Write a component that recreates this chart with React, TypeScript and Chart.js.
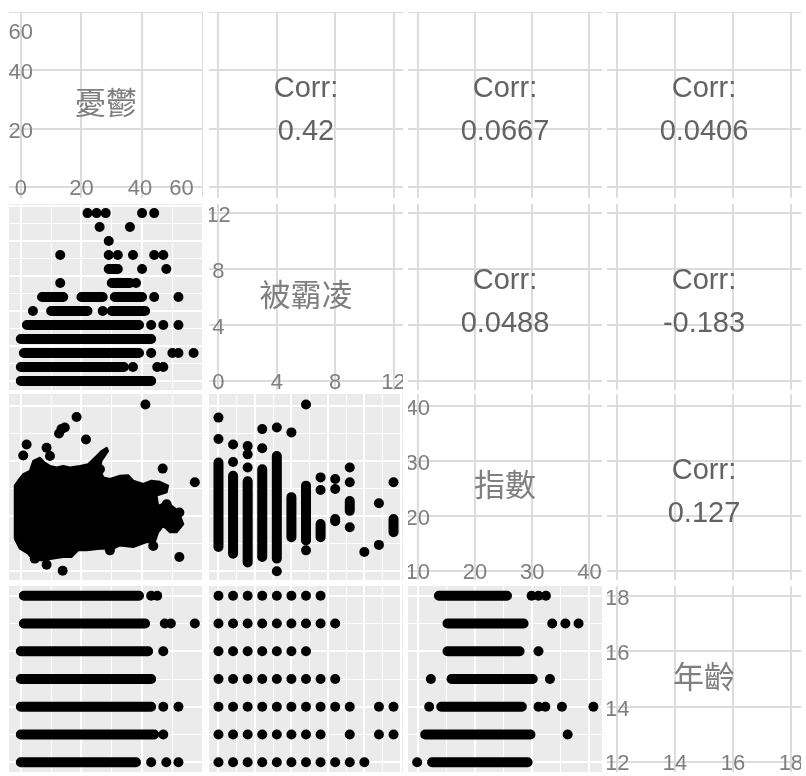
import React, { useEffect, useRef } from 'react';
import { Chart, registerables } from 'chart.js';

Chart.register(...registerables);

// ---- variables & axes ----
const varNames = ['憂鬱', '被霸凌', '指數', '年齡'];
const varMin = [-3.9, -0.65, 8.3, 11.65];
const varMax = [60.1, 12.65, 42.2, 18.35];

const labelBreaks = [[0, 20, 40, 60], [0, 4, 8, 12], [10, 20, 30, 40], [12, 14, 16, 18]];
const majorBreaks = [[0, 20, 40, 60], [0, 2.5, 5, 7.5, 10, 12.5], [10, 20, 30, 40], [12, 14, 16, 18]];
const minorBreaks = [[10, 30, 50], [1.25, 3.75, 6.25, 8.75, 11.25], [15, 25, 35], [13, 15, 17]];

const diagXLabels = [['0', '20', '40', '60'], ['0', '4', '8', '12'], ['10', '20', '30', '40'], ['12', '14', '16', '18']];
const diagXLabelPos = [[0, 20, 39.3, 53], [0, 4, 8, 12], [10, 20, 30, 40], [12, 14, 16, 18]];
const diagYLabels = [['20', '40', '60'], ['4', '8', '12'], ['20', '30', '40'], ['14', '16', '18']];
const diagYLabelPos = [[20, 40, 54], [4, 8, 12], [20, 30, 40], [14, 16, 18]];

// ---- correlations (upper triangle) ----
const corrRows = [0, 0, 0, 1, 1, 2];
const corrCols = [1, 2, 3, 2, 3, 3];
const corrValues = ['0.42', '0.0667', '0.0406', '0.0488', '-0.183', '0.127'];

// ---- 被霸凌 (y) vs 憂鬱 (x): runs [y, xFrom, xTo] and single points [x, y] ----
const depBullyRuns = [
  [8, 29, 32], [7, 30, 36], [6, 7, 14], [6, 20, 27], [6, 31, 40],
  [5, 10, 22], [5, 30, 41], [4, 2, 39], [3, 0, 43], [2, 1, 39], [1, 0, 34], [0, 0, 43],
];
const depBullyPoints = [
  [22, 12], [25, 12], [28, 12], [40, 12], [44, 12],
  [26, 11], [36, 11], [29, 10],
  [13, 9], [29, 9], [32, 9], [37, 9], [44, 9], [47, 9],
  [40, 8], [48, 8], [13, 7], [38, 7], [44, 6], [52, 6],
  [4, 5], [27, 5], [43, 4], [47, 4], [52, 4],
  [43, 2], [50, 2], [52, 2], [57, 2], [37, 1], [45, 1], [47, 1],
];

// ---- 指數 (y) vs 憂鬱 (x): outline of the dense cloud [x, y] and outliers ----
const depIndexOutline = [
  [-2.0, 15.8], [-2.0, 25.5], [-0.9, 26.4], [0.8, 27.6], [3.0, 28.2], [4.1, 30.0], [6.3, 30.6],
  [7.9, 29.7], [9.6, 29.1], [11.8, 28.8], [14.0, 29.1], [16.2, 28.8], [19.5, 29.1], [22.2, 29.4],
  [25.0, 30.9], [26.6, 31.8], [28.3, 32.4], [28.8, 31.8], [26.6, 30.0], [26.1, 28.5], [27.2, 27.0],
  [29.4, 26.7], [32.7, 27.3], [35.4, 27.4], [37.1, 26.4], [40.4, 25.8], [43.1, 26.4], [45.9, 26.2],
  [48.6, 25.5], [48.1, 24.3], [44.8, 23.7], [45.3, 21.8], [48.1, 22.5], [51.9, 20.9], [53.6, 18.5],
  [51.4, 17.0], [49.2, 17.0], [47.0, 18.2], [45.3, 17.0], [44.2, 15.2], [41.5, 15.2], [37.1, 14.3],
  [32.7, 14.6], [30.5, 14.0], [26.1, 14.0], [21.7, 13.7], [18.9, 13.7], [16.7, 12.5], [14.0, 12.5],
  [10.7, 12.2], [7.4, 11.9], [4.1, 11.9], [2.4, 13.1], [-0.3, 14.0], [-2.0, 15.8],
];
const depIndexPoints = [
  [41.1, 40.3], [18.4, 38.0], [13.4, 35.8], [14.5, 36.1], [12.6, 35.0], [21.5, 33.9], [1.9, 33.0],
  [0.8, 31.0], [8.5, 32.4], [9.6, 30.9], [46.8, 28.6], [57.4, 26.1], [52.3, 12.5], [13.8, 10.0],
  [8.5, 11.1], [4.6, 12.2], [43.7, 14.5], [29.4, 13.7], [48.1, 22.1], [52.3, 20.6], [26.1, 28.5],
  [26.6, 26.4],
];

// ---- 指數 (y) vs 被霸凌 (x): runs [x, yFrom, yTo] and points [x, y] ----
const bullyIndexRuns = [
  [0, 14.3, 29.7], [1, 13.1, 27.3], [2, 11.5, 26.3], [3, 12.5, 28.5], [4, 12.2, 30.9],
  [5, 16.1, 23.4], [6, 15.5, 25.5], [7, 16.1, 18.5], [9, 20.9, 22.7], [12, 17.0, 19.4],
];
const bullyIndexPoints = [
  [0, 37.9], [0, 34.0], [1, 33.0], [1, 29.8], [2, 32.7], [2, 31.2], [2, 28.8], [3, 35.8], [3, 32.3],
  [4, 36.1], [4, 9.9], [5, 35.2], [6, 40.3], [6, 13.7], [7, 27.0], [7, 24.7], [8, 26.7], [8, 24.9],
  [8, 19.4], [8, 19.0], [9, 28.8], [9, 26.1], [9, 17.9], [10, 13.4], [11, 22.3], [11, 14.7], [12, 26.1],
];

// ---- 年齡 (y) vs 憂鬱 (x) ----
const depAgeRuns = [
  [18, 1, 39], [17, 1, 41], [16, 0, 42], [15, 0, 43], [14, 0, 43], [13, 0, 44], [12, 0, 38],
];
const depAgePoints = [
  [43, 18], [45, 18], [47.5, 17], [49.5, 17], [57.4, 17], [47, 16], [47, 14], [52, 14],
  [47, 13], [43, 12], [48, 12], [52, 12],
];

// ---- 年齡 (y) vs 被霸凌 (x) ----
const bullyAgeLevels = [18, 17, 16, 15, 14, 13, 12];
const bullyAgeValues = [
  [0, 1, 2, 3, 4, 5, 6, 7],
  [0, 1, 2, 3, 4, 5, 6, 7, 8],
  [0, 1, 2, 3, 4, 5, 6],
  [0, 1, 2, 3, 4, 5, 6, 7, 8],
  [0, 1, 2, 3, 4, 5, 6, 7, 8, 9, 11, 12],
  [0, 1, 2, 3, 4, 5, 6, 7, 9, 11, 12],
  [0, 1, 2, 3, 4, 5, 6, 7, 8, 9, 10],
];

// ---- 年齡 (y) vs 指數 (x) ----
const indexAgeRuns = [
  [18, 13.7, 25.6], [17, 15.2, 28.5], [16, 15.2, 27.8], [15, 15.9, 30.1],
  [14, 14.1, 28.2], [13, 11.3, 29.7], [12, 12.5, 29.2],
];
const indexAgePoints = [
  [29.9, 18], [31.1, 18], [32.4, 18], [33.5, 17], [35.8, 17], [38.1, 17], [31.1, 16],
  [12.3, 15], [33.1, 15], [12.0, 14], [31.1, 14], [32.3, 14], [35.2, 14], [40.7, 14],
  [36.2, 13], [9.9, 12],
];

// ---- layout ----
const panelLeft = [9, 209, 408, 607];
const panelTop = [12, 204, 394, 586];
const panelW = 194;
const panelH = 186;

const DOT = 5;

function runsLine(runs: number[][], horizontal: boolean) {
  const data: any[] = [];
  runs.forEach(([c, a, b]) => {
    if (horizontal) data.push({ x: a, y: c }, { x: b, y: c });
    else data.push({ x: c, y: a }, { x: c, y: b });
    data.push({ x: null, y: null });
  });
  return {
    data,
    showLine: true,
    spanGaps: false,
    borderColor: '#000',
    borderWidth: DOT * 2,
    borderCapStyle: 'round',
    borderJoinStyle: 'round',
    pointRadius: 0,
    fill: false,
  };
}

function pointsSet(points: number[][]) {
  return {
    data: points.map(([x, y]) => ({ x, y })),
    showLine: false,
    pointRadius: DOT,
    pointHoverRadius: DOT,
    pointBackgroundColor: '#000',
    pointBorderColor: '#000',
    pointBorderWidth: 0,
  };
}

function lowerDatasets(row: number, col: number): any[] {
  if (row === 1 && col === 0) return [runsLine(depBullyRuns, true), pointsSet(depBullyPoints)];
  if (row === 2 && col === 0)
    return [
      {
        data: depIndexOutline.map(([x, y]) => ({ x, y })),
        showLine: true,
        borderColor: '#000',
        backgroundColor: '#000',
        borderWidth: 2,
        borderJoinStyle: 'round',
        fill: 'shape',
        pointRadius: 0,
      },
      pointsSet(depIndexPoints),
    ];
  if (row === 2 && col === 1) return [runsLine(bullyIndexRuns, false), pointsSet(bullyIndexPoints)];
  if (row === 3 && col === 0) return [runsLine(depAgeRuns, true), pointsSet(depAgePoints)];
  if (row === 3 && col === 1) {
    const pts: number[][] = [];
    bullyAgeLevels.forEach((age, i) => bullyAgeValues[i].forEach((b) => pts.push([b, age])));
    return [pointsSet(pts)];
  }
  if (row === 3 && col === 2) return [runsLine(indexAgeRuns, true), pointsSet(indexAgePoints)];
  return [];
}

function makeScale(v: number, lower: boolean) {
  const ticks = lower ? [...majorBreaks[v], ...minorBreaks[v]] : labelBreaks[v];
  return {
    type: 'linear',
    min: varMin[v],
    max: varMax[v],
    display: true,
    ticks: { display: false },
    border: { display: false },
    grid: {
      drawTicks: false,
      color: lower ? '#ffffff' : '#dcdcdc',
      lineWidth: (ctx: any) => {
        if (!lower) return 2;
        const val = ctx.tick ? ctx.tick.value : 0;
        return minorBreaks[v].includes(val) ? 1 : 2;
      },
    },
    afterBuildTicks: (scale: any) => {
      scale.ticks = ticks.map((value) => ({ value }));
    },
  };
}

function textPlugin(row: number, col: number) {
  return {
    id: 'panelText',
    afterDraw(chart: any) {
      const { ctx, chartArea } = chart;
      const xs = chart.scales.x;
      const ys = chart.scales.y;
      const cx = (chartArea.left + chartArea.right) / 2;
      const cy = (chartArea.top + chartArea.bottom) / 2;
      ctx.save();
      if (row === col) {
        const v = row;
        ctx.fillStyle = '#7f7f7f';
        ctx.textAlign = 'center';
        ctx.textBaseline = 'middle';
        ctx.font = '31px "Noto Sans CJK TC", "Noto Sans CJK SC", sans-serif';
        ctx.fillText(varNames[v], cx, cy - 3);
        ctx.font = '22px "Liberation Sans", Arial, sans-serif';
        const x0 = xs.getPixelForValue(labelBreaks[v][0]);
        const y0 = ys.getPixelForValue(labelBreaks[v][0]);
        diagXLabels[v].forEach((t, i) => ctx.fillText(t, xs.getPixelForValue(diagXLabelPos[v][i]), y0 + 2));
        diagYLabels[v].forEach((t, i) => ctx.fillText(t, x0, ys.getPixelForValue(diagYLabelPos[v][i]) + 3));
      } else if (row < col) {
        const k = corrRows.findIndex((r, i) => r === row && corrCols[i] === col);
        ctx.fillStyle = '#636363';
        ctx.font = '29px "Liberation Sans", Arial, sans-serif';
        ctx.textAlign = 'center';
        ctx.textBaseline = 'alphabetic';
        ctx.fillText('Corr:', cx, cy - 8);
        ctx.fillText(corrValues[k], cx, cy + 34.5);
      }
      ctx.restore();
    },
  };
}

function Panel({ row, col }: { row: number; col: number }) {
  const ref = useRef<HTMLCanvasElement>(null);
  const lower = row > col;
  useEffect(() => {
    const chart = new Chart(ref.current as HTMLCanvasElement, {
      type: 'scatter',
      data: { datasets: lower ? lowerDatasets(row, col) : [] },
      options: {
        animation: false,
        responsive: false,
        maintainAspectRatio: false,
        events: [],
        layout: { padding: 0, autoPadding: false },
        plugins: { legend: { display: false }, tooltip: { enabled: false } },
        scales: {
          x: makeScale(col, lower) as any,
          y: makeScale(row, lower) as any,
        },
      } as any,
      plugins: [textPlugin(row, col)],
    });
    return () => chart.destroy();
  }, [row, col, lower]);
  return (
    <canvas
      ref={ref}
      width={panelW}
      height={panelH}
      style={{
        position: 'absolute',
        left: panelLeft[col],
        top: panelTop[row],
        width: panelW,
        height: panelH,
        background: lower ? '#ebebeb' : '#ffffff',
      }}
    />
  );
}

export default function App() {
  const cells: JSX.Element[] = [];
  for (let r = 0; r < 4; r++) {
    for (let c = 0; c < 4; c++) {
      cells.push(<Panel key={`${r}-${c}`} row={r} col={c} />);
    }
  }
  return (
    <div style={{ position: 'absolute', left: 0, top: 0, width: 806, height: 776, background: '#fff', overflow: 'hidden' }}>
      {cells}
    </div>
  );
}
